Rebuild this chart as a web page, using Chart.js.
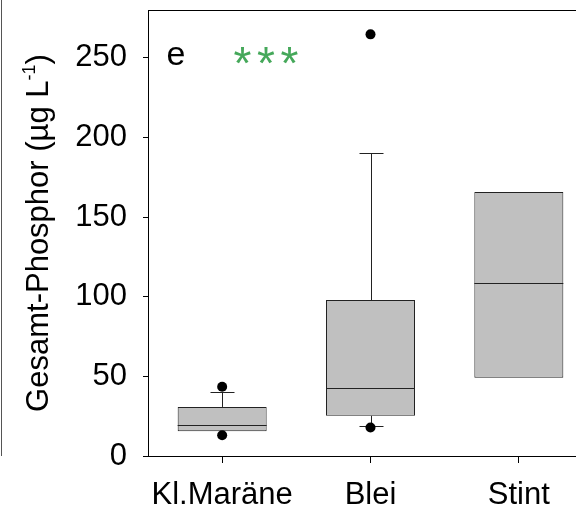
<!DOCTYPE html>
<html>
<head>
<meta charset="utf-8">
<script src="https://cdn.jsdelivr.net/npm/chart.js@4"></script>
<style>
  html, body { margin: 0; padding: 0; overflow: hidden; background: #fff; }
</style>
</head>
<body>
<canvas id="boxChart" width="600" height="511"></canvas>
<script>
// Gesamt-Phosphor box plot

var categories = ['Kl.Maräne', 'Blei', 'Stint'];
var q1 = [15.5, 25.2, 49.1];
var median = [19.7, 43.0, 108.5];
var q3 = [30.8, 97.9, 165.7];
var whiskerLow = [15.5, 18.7, 49.1];
var whiskerHigh = [40.3, 190.2, 165.7];
var outlierCat = ['Kl.Maräne', 'Kl.Maräne', 'Blei', 'Blei'];
var outlierVal = [43.5, 13.0, 264.7, 17.9];
var yTicks = [0, 50, 100, 150, 200, 250];

var FONT = 'Arial, "Liberation Sans", sans-serif';
var LINE = '#222';

// whiskers, caps and medians drawn from the scales
var boxParts = {
    id: 'boxParts',
    beforeDatasetsDraw: function(chart) {
        var ctx = chart.ctx, x = chart.scales.x, y = chart.scales.y;
        ctx.save();
        ctx.strokeStyle = LINE;
        ctx.lineWidth = 1;
        categories.forEach(function(c, i) {
            var cx = Math.round(x.getPixelForValue(i)) + 0.5;
            var caps = [[q3[i], whiskerHigh[i]], [q1[i], whiskerLow[i]]];
            caps.forEach(function(p) {
                if (p[0] === p[1]) return;
                var y0 = y.getPixelForValue(p[0]), y1 = Math.round(y.getPixelForValue(p[1])) + 0.5;
                ctx.beginPath();
                ctx.moveTo(cx, y0);
                ctx.lineTo(cx, y1);
                ctx.moveTo(cx - 12, y1);
                ctx.lineTo(cx + 12, y1);
                ctx.stroke();
            });
        });
        ctx.restore();
    },
    afterDatasetDraw: function(chart, args) {
        if (args.meta.type !== 'bar') return;
        var ctx = chart.ctx, y = chart.scales.y;
        ctx.save();
        ctx.strokeStyle = LINE;
        ctx.lineWidth = 1;
        args.meta.data.forEach(function(bar, i) {
            var my = Math.round(y.getPixelForValue(median[i])) + 0.5;
            ctx.beginPath();
            ctx.moveTo(bar.x - bar.width / 2, my);
            ctx.lineTo(bar.x + bar.width / 2, my);
            ctx.stroke();
        });
        ctx.restore();
    },
    afterDraw: function(chart) {
        var ctx = chart.ctx, a = chart.chartArea, y = chart.scales.y;
        ctx.save();
        // frame top / right
        ctx.strokeStyle = '#000';
        ctx.lineWidth = 1;
        ctx.beginPath();
        ctx.moveTo(a.left, a.top + 0.5);
        ctx.lineTo(a.right + 0.5, a.top + 0.5);
        ctx.lineTo(a.right + 0.5, a.bottom);
        ctx.stroke();
        // edge of the neighbouring panel
        ctx.strokeStyle = '#555';
        ctx.beginPath();
        ctx.moveTo(1.5, 0);
        ctx.lineTo(1.5, a.bottom);
        ctx.stroke();

        // y title with superscript
        ctx.translate(48, (a.top + a.bottom) / 2);
        ctx.rotate(-Math.PI / 2);
        ctx.fillStyle = '#000';
        ctx.textBaseline = 'alphabetic';
        var big = '31px ' + FONT, small = '18px ' + FONT;
        var t1 = 'Gesamt-Phosphor (µg L', t2 = '-1', t3 = ')';
        ctx.font = big;
        var w1 = ctx.measureText(t1).width, w3 = ctx.measureText(t3).width;
        ctx.font = small;
        var w2 = ctx.measureText(t2).width;
        var sx = -(w1 + w2 + w3) / 2;
        ctx.font = big;
        ctx.fillText(t1, sx, 0);
        ctx.font = small;
        ctx.fillText(t2, sx + w1, -13);
        ctx.font = big;
        ctx.fillText(t3, sx + w1 + w2, 0);
        ctx.setTransform(1, 0, 0, 1, 0, 0);

        // panel letter and significance stars
        var ly = y.getPixelForValue(250);
        ctx.font = '34px ' + FONT;
        ctx.textAlign = 'center';
        ctx.textBaseline = 'middle';
        ctx.fillText('e', 176, ly - 2);
        ctx.fillStyle = '#45a85a';
        ctx.font = '46px ' + FONT;
        [242.5, 266, 289.5].forEach(function(sx) {
            ctx.fillText('*', sx, ly + 9);
        });
        ctx.restore();
    }
};

var ctx = document.getElementById('boxChart').getContext('2d');
var chart = new Chart(ctx, {
    type: 'bar',
    data: {
        labels: categories,
        datasets: [
            {
                type: 'bar',
                order: 2,
                data: q1.map(function(v, i) { return [v, q3[i]]; }),
                backgroundColor: '#c0c0c0',
                borderColor: LINE,
                borderWidth: 1,
                borderSkipped: false,
                barPercentage: 0.6,
                categoryPercentage: 1,
            },
            {
                type: 'line',
                order: 1,
                showLine: false,
                data: outlierCat.map(function(c, i) { return { x: c, y: outlierVal[i] }; }),
                pointRadius: 5,
                pointHoverRadius: 5,
                pointBackgroundColor: '#000',
                pointBorderWidth: 0,
            }
        ]
    },
    options: {
        responsive: false,
        animation: false,
        events: [],
        layout: { padding: { top: 10, right: 7, left: 0, bottom: 0 } },
        plugins: { legend: { display: false }, tooltip: { enabled: false } },
        scales: {
            x: {
                offset: true,
                afterFit: function(s) { s.height = 55; s.paddingLeft = 0; s.paddingRight = 0; },
                grid: { offset: false, drawOnChartArea: false, drawTicks: true, tickLength: 7, color: '#000' },
                border: { color: '#000', width: 1 },
                ticks: { color: '#000', font: { family: FONT, size: 31 }, padding: 14, maxRotation: 0 }
            },
            y: {
                min: 0,
                max: 280,
                afterFit: function(s) { s.width = 148; s.paddingTop = 0; s.paddingBottom = 0; },
                afterBuildTicks: function(s) { s.ticks = yTicks.map(function(v) { return { value: v }; }); },
                grid: { drawOnChartArea: false, drawTicks: true, tickLength: 5, color: '#000' },
                border: { color: '#000', width: 1 },
                ticks: { color: '#000', font: { family: FONT, size: 31 }, padding: 16 }
            }
        }
    },
    plugins: [boxParts]
});
</script>
</body>
</html>
